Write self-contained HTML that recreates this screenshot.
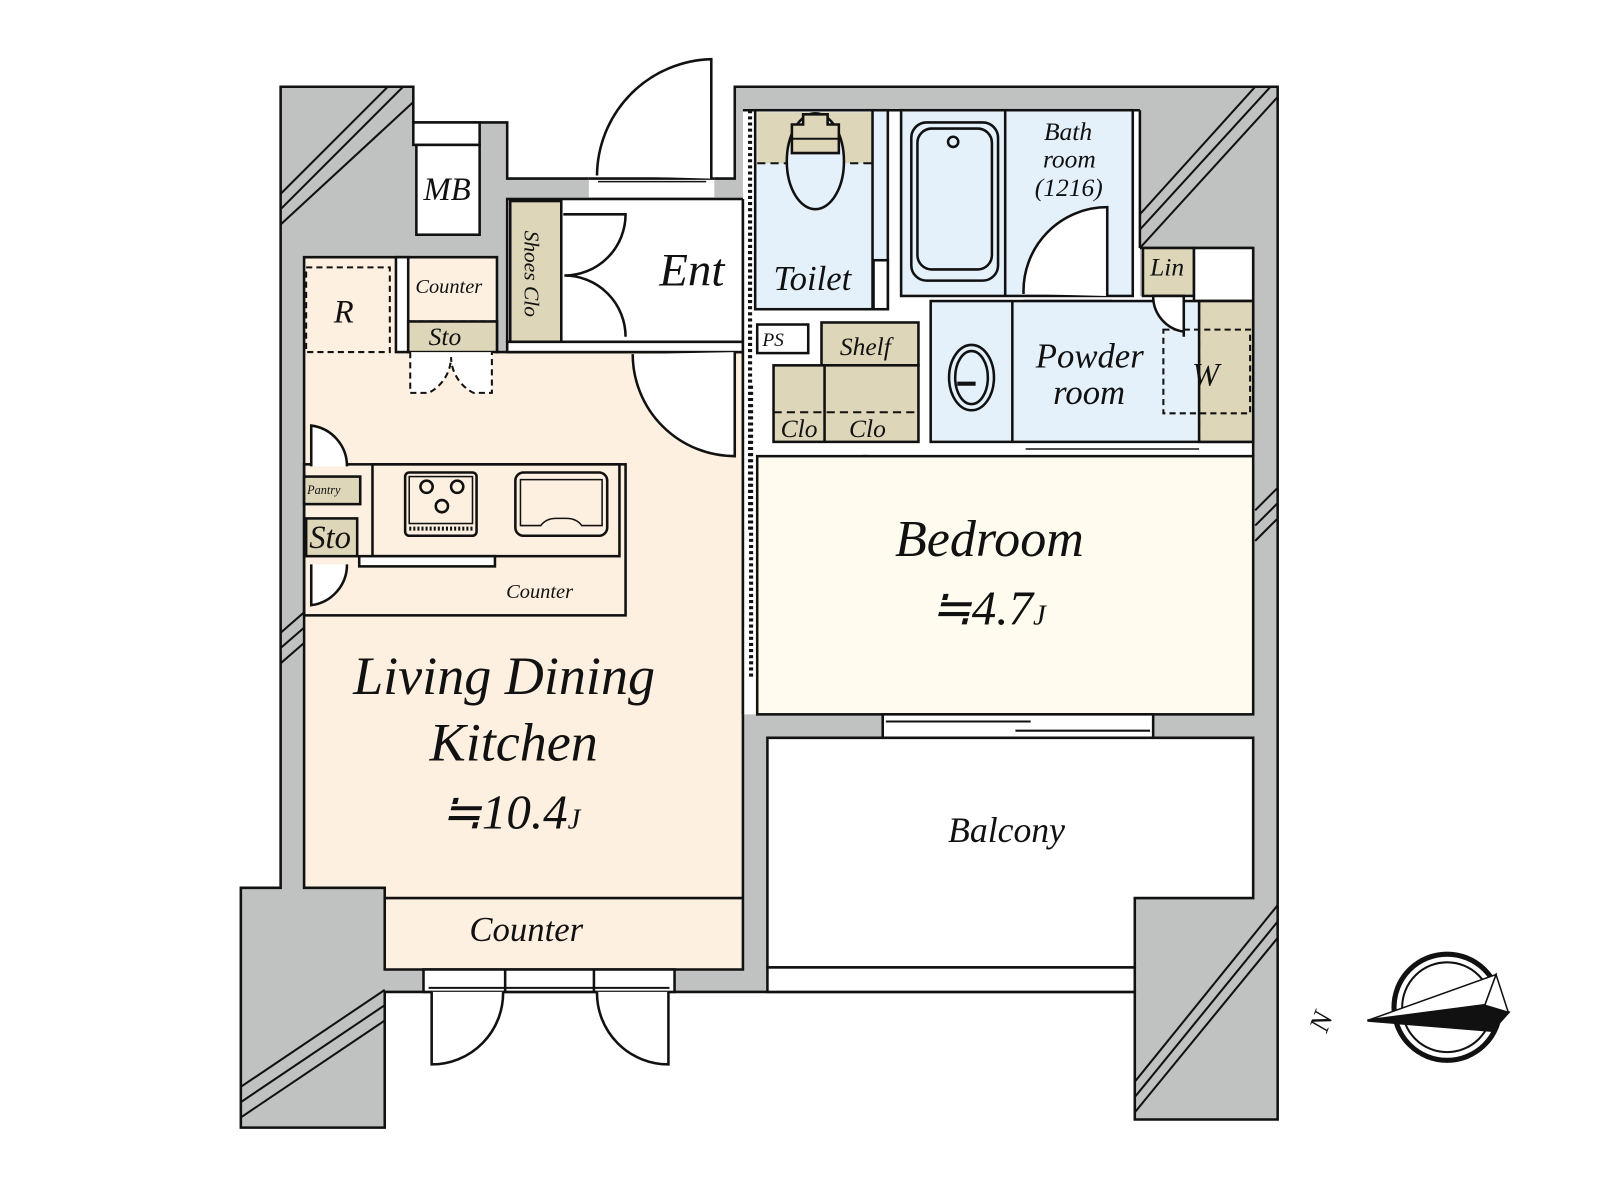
<!DOCTYPE html>
<html><head><meta charset="utf-8"><style>
html,body{margin:0;padding:0;background:#fff;width:1600px;height:1200px;overflow:hidden}
svg text{font-family:"Liberation Serif",serif;font-style:italic;fill:#111}
</style></head><body>
<svg width="1600" height="1200" viewBox="0 0 1600 1200" xmlns="http://www.w3.org/2000/svg">
<g transform="scale(1.0205)">
<g stroke="#111" stroke-width="2.5" fill="none">
<polygon fill="#c0c1c1" points="275,85 405,85 405,120 497,120 497,175 720,175 720,85 1252,85 1252,1097 1112,1097 1112,972 377,972 377,1105 236,1105 236,870 275,870"/>
<rect x="405" y="120" width="65" height="22" fill="#fff"/>
<rect x="408" y="142" width="62" height="88" fill="#fff"/>
<rect x="577" y="172" width="123" height="25" fill="#fff" stroke="none"/>
<line x1="577" y1="175" x2="700" y2="175"/><line x1="577" y1="195" x2="700" y2="195"/>
<line x1="586" y1="178" x2="692" y2="178" stroke-width="1.5"/>
<path d="M697,175 V58 A115,115 0 0 0 585,172" fill="#fff"/>
<polygon fill="#fdf0e0" points="298,252 487,252 487,345 728,345 728,880 728,950 377,950 377,870 298,870"/>
<line x1="377" y1="880" x2="728" y2="880"/>
<rect x="497" y="195" width="231" height="140" fill="#fff"/>
<rect x="500" y="197" width="50" height="138" fill="#ddd6b8"/>
<path d="M552,210 H613 A60,60 0 0 1 553,270 A60,60 0 0 1 613,330" />
<rect x="497" y="335" width="231" height="10" fill="#fff"/>
<path d="M720,345 V447 A100,100 0 0 1 620,347" fill="#fff"/>
<rect x="300" y="262" width="82" height="83" stroke-dasharray="6,4" stroke-width="2"/>
<rect x="388" y="252" width="12" height="93" fill="#fff"/>
<rect x="400" y="315" width="87" height="30" fill="#ddd6b8"/>
<line x1="400" y1="315" x2="487" y2="315" stroke-dasharray="6,4" stroke-width="2"/>
<path d="M402,345 V385 H420 A40,40 0 0 0 442,350 A40,40 0 0 0 464,385 H482 V345" stroke-dasharray="6,4" stroke-width="2" fill="#fff"/>
<rect x="728" y="108" width="389" height="339" fill="#fff" stroke="none"/>
<rect x="728" y="290" width="500" height="157" fill="#fff" stroke="none"/>
<rect x="728" y="440" width="14" height="260" fill="#fff" stroke="none"/>
<line x1="1117" y1="108" x2="1117" y2="243"/>
<line x1="1117" y1="243" x2="1228" y2="243"/>
<line x1="1228" y1="243" x2="1228" y2="447"/>
<line x1="728" y1="108" x2="1117" y2="108"/>
<line x1="728" y1="195" x2="728" y2="700"/>
<line x1="735" y1="108" x2="735" y2="520" stroke-dasharray="3,3" stroke-width="4"/>
<line x1="736" y1="378" x2="736" y2="665" stroke-dasharray="3,3" stroke-width="4"/>
<rect x="740" y="108" width="130" height="195" fill="#e4f1fb"/>
<rect x="742" y="110" width="113" height="50" fill="#ddd6b8" stroke="none"/>
<line x1="742" y1="160" x2="855" y2="160" stroke-dasharray="8,5" stroke-width="2"/>
<line x1="855" y1="108" x2="855" y2="303"/>
<rect x="856" y="255" width="14" height="48" fill="#fff"/>
<ellipse cx="799" cy="158" rx="28" ry="47" fill="#e4f1fb"/>
<path d="M787,112 H811 V122 H822 V150 H776 V122 H787 Z" fill="#ddd6b8"/>
<line x1="776" y1="136" x2="822" y2="136" stroke-width="2"/>
<rect x="883" y="108" width="227" height="182" fill="#e4f1fb"/>
<line x1="985" y1="108" x2="985" y2="290"/>
<rect x="893" y="120" width="85" height="155" rx="15" fill="#e4f1fb"/>
<rect x="899" y="126" width="73" height="138" rx="14"/>
<circle cx="934" cy="139" r="5"/>
<path d="M1085,290 V203 A82,82 0 0 0 1003,288" fill="#fff"/>
<line x1="1003" y1="295" x2="1090" y2="295"/>
<rect x="1120" y="243" width="50" height="47" fill="#ddd6b8"/>
<rect x="1170" y="243" width="58" height="52" fill="#fff"/>
<rect x="912" y="295" width="316" height="138" fill="#e4f1fb"/>
<line x1="992" y1="295" x2="992" y2="433"/>
<rect x="1175" y="295" width="53" height="138" fill="#ddd6b8"/>
<line x1="1175" y1="295" x2="1175" y2="433" stroke-dasharray="8,5" stroke-width="2"/>
<rect x="1140" y="323" width="85" height="82" stroke-dasharray="6,4" stroke-width="2"/>
<path d="M1160,330 V290 H1130 A35,35 0 0 0 1160,325" fill="#fff"/>
<ellipse cx="952" cy="370" rx="22" ry="32" fill="#e4f1fb"/>
<ellipse cx="952" cy="370" rx="16" ry="26"/>
<line x1="938" y1="376" x2="956" y2="376" stroke-width="4"/>
<line x1="1005" y1="440" x2="1175" y2="440" stroke-width="1.5"/>
<rect x="742" y="318" width="50" height="28" fill="#fff"/>
<rect x="805" y="316" width="95" height="42" fill="#ddd6b8"/>
<rect x="758" y="358" width="142" height="75" fill="#ddd6b8"/>
<line x1="808" y1="358" x2="808" y2="433"/>
<line x1="758" y1="404" x2="900" y2="404" stroke-dasharray="8,5" stroke-width="2"/>
<path d="M768,447 V487 A40,40 0 0 0 808,447 M808,487 A40,40 0 0 1 848,447 A40,40 0 0 1 888,487 V447 M808,447 V487 M848,447 V487" />
<rect x="742" y="447" width="486" height="253" fill="#fffcef"/>
<rect x="865" y="700" width="265" height="23" fill="#fff"/>
<line x1="868" y1="707" x2="1010" y2="707" stroke-width="2"/><line x1="995" y1="716" x2="1127" y2="716" stroke-width="2"/>
<polygon fill="#fff" points="752,723 1228,723 1228,880 1112,880 1112,948 752,948"/>
<rect x="752" y="948" width="360" height="24" fill="#fff"/>
<rect x="298" y="455" width="315" height="148"/>
<rect x="365" y="455" width="242" height="90"/>
<rect x="352" y="545" width="133" height="10" fill="#fff"/>
<rect x="397" y="463" width="70" height="62" rx="4"/>
<rect x="401" y="467" width="62" height="46" stroke-width="1.5"/>
<circle cx="418" cy="477" r="6"/><circle cx="448" cy="477" r="6"/><circle cx="433" cy="496" r="6"/>
<line x1="401" y1="518" x2="463" y2="518" stroke-dasharray="2,2" stroke-width="4"/>
<rect x="505" y="463" width="90" height="62" rx="8"/>
<path d="M510,470 H590 V515 H570 Q565,508 555,508 H545 Q535,508 530,515 H510 Z" stroke-width="1.5"/>
<rect x="298" y="467" width="55" height="27" fill="#ddd6b8"/>
<rect x="300" y="508" width="50" height="37" fill="#ddd6b8"/>
<path d="M305,457 V417 A40,40 0 0 1 340,457" fill="#fff"/>
<path d="M305,553 V593 A40,40 0 0 0 340,553" fill="#fff"/>
<rect x="415" y="950" width="246" height="22" fill="#fff"/>
<line x1="420" y1="968" x2="656" y2="968" stroke-width="2"/>
<line x1="495" y1="950" x2="495" y2="972"/><line x1="582" y1="950" x2="582" y2="972"/>
<path d="M423,972 V1043 A70,70 0 0 0 493,972 M655,972 V1043 A70,70 0 0 1 585,972" fill="#fff"/>
<g stroke-width="2">
<path d="M275,190 L380,85 M275,205 L395,85 M275,220 L405,100"/>
<path d="M1117,210 L1230,85 M1117,225 L1245,85 M1117,243 L1252,95"/>
<path d="M1230,500 L1252,478 M1230,515 L1252,493 M1230,530 L1252,508"/>
<path d="M275,620 L298,600 M275,635 L298,615 M275,650 L298,630"/>
<path d="M236,1065 L377,970 M236,1080 L377,985 M236,1095 L377,1000"/>
<path d="M1112,1060 L1252,887 M1112,1075 L1252,903 M1112,1090 L1252,919"/>
</g>
<ellipse cx="1418" cy="987" rx="52" ry="52" stroke-width="5"/>
<ellipse cx="1418" cy="987" rx="44" ry="44" stroke-width="2"/>
<polygon points="1340,1000 1466,955 1455,985" fill="#fff" stroke-width="1.5"/>
<polygon points="1340,1000 1455,985 1478,992 1462,1010" fill="#111"/>
<polygon points="1466,955 1478,992 1455,985" fill="#fff" stroke-width="1.5"/>
</g>
<g font-size="34">
<text x="415" y="196" font-size="32">MB</text>
<text x="327" y="316" font-size="32">R</text>
<text x="646" y="280" font-size="46">Ent</text>
<text x="758" y="284">Toilet</text>
<text x="1015" y="360">Powder</text>
<text x="1032" y="396">room</text>
<text x="1168" y="378" font-size="32">W</text>
<text x="877" y="545" font-size="51">Bedroom</text>
<text x="912" y="612" font-size="48">≒4.7<tspan font-size="28">J</tspan></text>
<text x="346" y="680" font-size="53">Living Dining</text>
<text x="421" y="745" font-size="53">Kitchen</text>
<text x="432" y="812" font-size="48">≒10.4<tspan font-size="28">J</tspan></text>
<text x="460" y="922">Counter</text>
<text x="929" y="825" font-size="35">Balcony</text>
</g>
<g font-size="25">
<text x="1023" y="137">Bath</text>
<text x="1022" y="164">room</text>
<text x="1014" y="192">(1216)</text>
<text x="1127" y="270">Lin</text>
<text x="823" y="348">Shelf</text>
<text x="765" y="428">Clo</text>
<text x="832" y="428">Clo</text>
<text x="420" y="338">Sto</text>
<text x="303" y="537" font-size="32">Sto</text>
</g>
<text x="407" y="287" font-size="20">Counter</text>
<text x="496" y="586" font-size="20">Counter</text>
<text x="301" y="484" font-size="12">Pantry</text>
<text x="747" y="339" font-size="19">PS</text>
<text transform="translate(514,226) rotate(90)" font-size="21">Shoes Clo</text>
<text transform="translate(1300,1013) rotate(-70)" font-size="28">N</text>
</g>
</svg>
</body></html>
